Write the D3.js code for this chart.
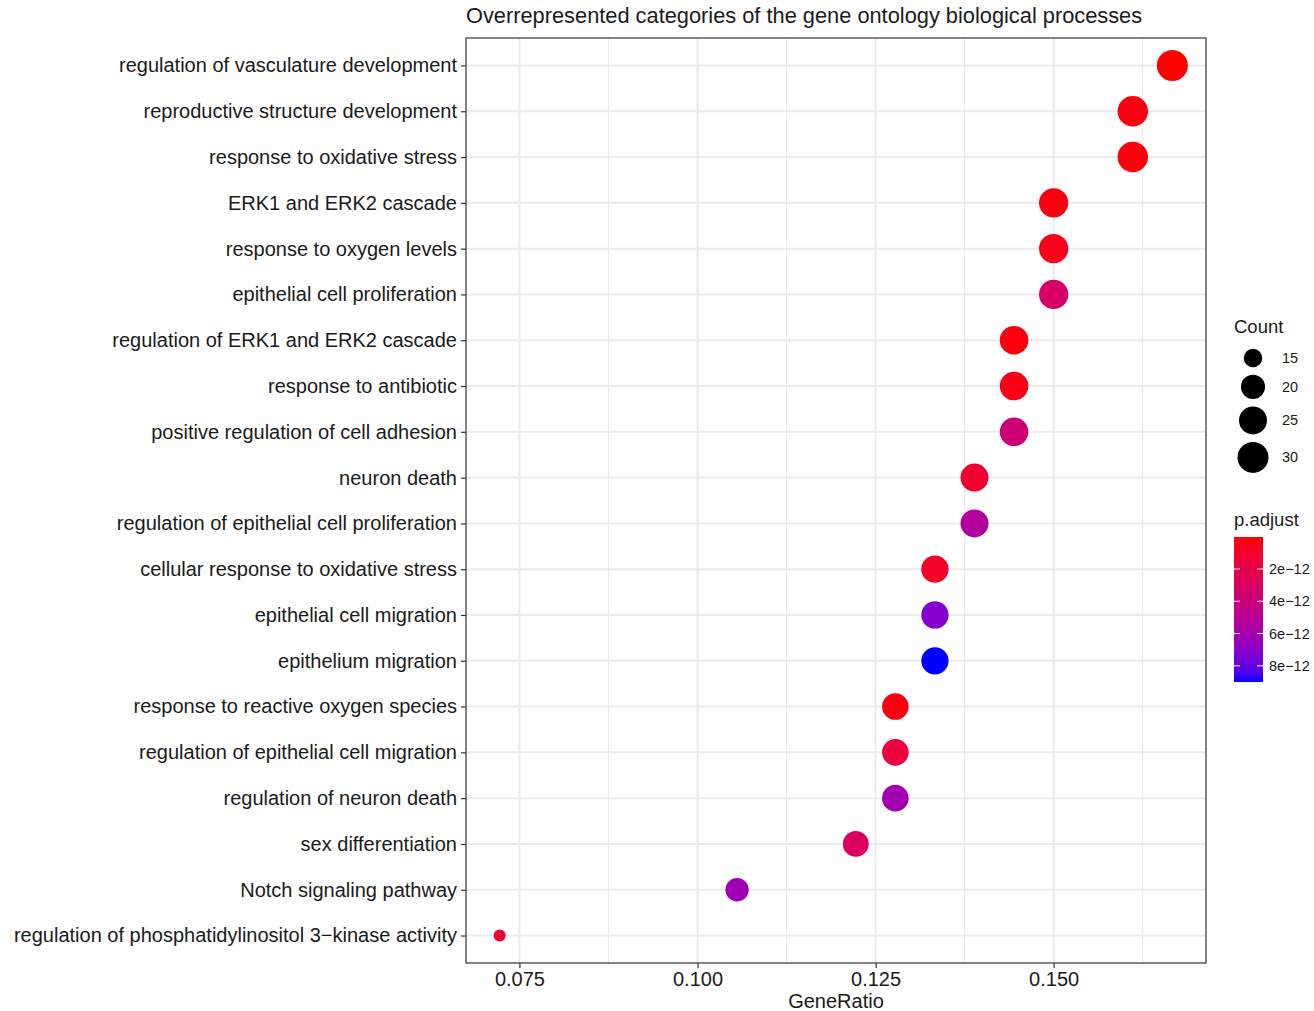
<!DOCTYPE html>
<html>
<head>
<meta charset="utf-8">
<script src="https://cdn.jsdelivr.net/npm/d3@7"></script>
<style>
  html, body { margin: 0; padding: 0; background: #fff; }
  svg { display: block; font-family: "Liberation Sans", Arial, Helvetica, sans-serif; }
</style>
</head>
<body>
<svg id="chart" width="1314" height="1011"></svg>
<script>
// ---------------- data ----------------
const categories = [
  "regulation of vasculature development",
  "reproductive structure development",
  "response to oxidative stress",
  "ERK1 and ERK2 cascade",
  "response to oxygen levels",
  "epithelial cell proliferation",
  "regulation of ERK1 and ERK2 cascade",
  "response to antibiotic",
  "positive regulation of cell adhesion",
  "neuron death",
  "regulation of epithelial cell proliferation",
  "cellular response to oxidative stress",
  "epithelial cell migration",
  "epithelium migration",
  "response to reactive oxygen species",
  "regulation of epithelial cell migration",
  "regulation of neuron death",
  "sex differentiation",
  "Notch signaling pathway",
  "regulation of phosphatidylinositol 3\u2212kinase activity"
];
const geneCounts = [30, 29, 29, 27, 27, 27, 26, 26, 26, 25, 25, 24, 24, 24, 23, 23, 23, 22, 19, 13];
const geneTotal = 180;
const pAdjust = [0.02e-12, 0.3e-12, 0.2e-12, 0.3e-12, 0.5e-12, 3.2e-12, 0.2e-12, 0.4e-12, 3.8e-12, 1.2e-12,
                 5.3e-12, 0.9e-12, 7.2e-12, 9.0e-12, 0.3e-12, 1.6e-12, 6.0e-12, 3.0e-12, 6.2e-12, 1.3e-12];
const xTicks = [0.075, 0.100, 0.125, 0.150];
const xMinorTicks = [0.0875, 0.1125, 0.1375, 0.1625];
const sizeBreaks = [15, 20, 25, 30];
const colorBreaks = [2e-12, 4e-12, 6e-12, 8e-12];
const colorBreakLabels = ["2e\u221212", "4e\u221212", "6e\u221212", "8e\u221212"];
const titleText = "Overrepresented categories of the gene ontology biological processes";

const rows = categories.map((c, i) => ({
  cat: c, count: geneCounts[i], ratio: geneCounts[i] / geneTotal, p: pAdjust[i]
}));

// ---------------- layout ----------------
const panel = { left: 466, right: 1206, top: 38, bottom: 963 };
const svg = d3.select("#chart");

const rMin = d3.min(rows, d => d.ratio), rMax = d3.max(rows, d => d.ratio);
const pad = (rMax - rMin) * 0.05;
const x = d3.scaleLinear().domain([rMin - pad, rMax + pad]).range([panel.left, panel.right]);
const y = d3.scalePoint().domain(categories).range([panel.top, panel.bottom]).padding(0.6);

const cMin = d3.min(geneCounts), cMax = d3.max(geneCounts);
const dMin = 12, dMax = 31;
const diam = v => dMin + (dMax - dMin) * Math.sqrt((v - cMin) / (cMax - cMin));

const pMin = d3.min(pAdjust), pMax = d3.max(pAdjust);
const color = d3.scaleLinear().domain([pMin, pMax]).range(["red", "blue"]).interpolate(d3.interpolateLab);

// ---------------- grid ----------------
const g = svg.append("g");
g.selectAll(".minor").data(xMinorTicks).join("line")
  .attr("x1", d => x(d)).attr("x2", d => x(d))
  .attr("y1", panel.top).attr("y2", panel.bottom)
  .attr("stroke", "#EBEBEB").attr("stroke-width", 1);
g.selectAll(".major").data(xTicks).join("line")
  .attr("x1", d => x(d)).attr("x2", d => x(d))
  .attr("y1", panel.top).attr("y2", panel.bottom)
  .attr("stroke", "#EBEBEB").attr("stroke-width", 2);
g.selectAll(".hmajor").data(categories).join("line")
  .attr("x1", panel.left).attr("x2", panel.right)
  .attr("y1", d => y(d)).attr("y2", d => y(d))
  .attr("stroke", "#EBEBEB").attr("stroke-width", 2);

// ---------------- points ----------------
svg.append("g").selectAll("circle").data(rows).join("circle")
  .attr("cx", d => x(d.ratio)).attr("cy", d => y(d.cat))
  .attr("r", d => diam(d.count) / 2)
  .attr("fill", d => color(d.p));

// ---------------- border ----------------
svg.append("rect")
  .attr("x", panel.left).attr("y", panel.top)
  .attr("width", panel.right - panel.left).attr("height", panel.bottom - panel.top)
  .attr("fill", "none").attr("stroke", "#333333").attr("stroke-width", 1.2);

// ---------------- axes ----------------
const xAxis = svg.append("g").attr("transform", `translate(0,${panel.bottom})`)
  .call(d3.axisBottom(x).tickValues(xTicks).tickFormat(d3.format(".3f")).tickSize(5).tickPadding(4));
xAxis.select(".domain").remove();
xAxis.selectAll("line").attr("stroke", "#333333").attr("stroke-width", 1.2);
xAxis.selectAll("text").attr("font-size", 20).attr("fill", "#1a1a1a").attr("font-family", "Liberation Sans, Arial, sans-serif");

const yAxis = svg.append("g").attr("transform", `translate(${panel.left},0)`)
  .call(d3.axisLeft(y).tickSize(5).tickPadding(4));
yAxis.select(".domain").remove();
yAxis.selectAll("line").attr("stroke", "#333333").attr("stroke-width", 1.2);
yAxis.selectAll("text").attr("font-size", 20).attr("fill", "#1a1a1a").attr("font-family", "Liberation Sans, Arial, sans-serif");

svg.append("text").attr("x", (panel.left + panel.right) / 2).attr("y", 1008)
  .attr("text-anchor", "middle").attr("font-size", 20).attr("fill", "#1a1a1a").text("GeneRatio");

svg.append("text").attr("x", panel.left).attr("y", 23)
  .attr("font-size", 21.8).attr("fill", "#1a1a1a").text(titleText);

// ---------------- size legend ----------------
const lx = 1234;
svg.append("text").attr("x", lx).attr("y", 333).attr("font-size", 18.5).attr("fill", "#1a1a1a").text("Count");
let ly = 358;
const sizeKeys = [];
sizeBreaks.forEach((b, i) => {
  if (i > 0) ly += diam(sizeBreaks[i - 1]) / 2 + diam(b) / 2 + 7.5;
  sizeKeys.push({ b, y: ly });
});
const sl = svg.append("g");
sl.selectAll("circle").data(sizeKeys).join("circle")
  .attr("cx", 1253).attr("cy", d => d.y).attr("r", d => diam(d.b) / 2).attr("fill", "black");
sl.selectAll("text").data(sizeKeys).join("text")
  .attr("x", 1282).attr("y", d => d.y + 5).attr("font-size", 14.5).attr("fill", "#1a1a1a").text(d => d.b);

// ---------------- colour legend ----------------
svg.append("text").attr("x", lx).attr("y", 526).attr("font-size", 18.5).attr("fill", "#1a1a1a").text("p.adjust");
const barTop = 537, barBottom = 682, barW = 29;
const cy = d3.scaleLinear().domain([pMin, pMax]).range([barTop, barBottom]);
const defs = svg.append("defs");
const grad = defs.append("linearGradient").attr("id", "pgrad").attr("x1", 0).attr("y1", 0).attr("x2", 0).attr("y2", 1);
d3.range(0, 1.0001, 0.05).forEach(t => {
  grad.append("stop").attr("offset", t).attr("stop-color", color(pMin + t * (pMax - pMin)));
});
svg.append("rect").attr("x", lx).attr("y", barTop).attr("width", barW).attr("height", barBottom - barTop)
  .attr("fill", "url(#pgrad)");
const cl = svg.append("g");
colorBreaks.forEach((b, i) => {
  const yy = cy(b);
  cl.append("line").attr("x1", lx).attr("x2", lx + 6).attr("y1", yy).attr("y2", yy).attr("stroke", "white").attr("stroke-width", 1);
  cl.append("line").attr("x1", lx + barW - 6).attr("x2", lx + barW).attr("y1", yy).attr("y2", yy).attr("stroke", "white").attr("stroke-width", 1);
  cl.append("text").attr("x", lx + barW + 6).attr("y", yy + 5).attr("font-size", 14.5).attr("fill", "#1a1a1a").text(colorBreakLabels[i]);
});
</script>
</body>
</html>
